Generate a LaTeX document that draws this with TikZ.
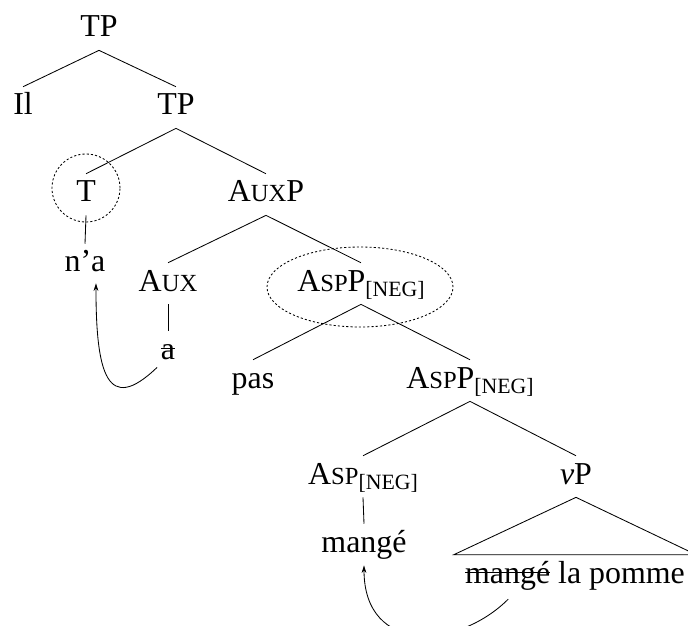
\documentclass[tikz,border=0pt]{standalone}
\usepackage{fontspec}
\setmainfont{Liberation Serif}
\usetikzlibrary{shapes.geometric,arrows.meta}

\newsavebox\gonebox
\newcommand{\gone}[1]{\sbox\gonebox{#1}\rlap{\rule[0.65ex]{\wd\gonebox}{0.7pt}}\usebox\gonebox}
\newcommand{\smc}[1]{{\fontsize{17.5}{18}\selectfont #1}}
\newcommand{\negf}{\raisebox{-4.2pt}{\fontsize{15.5}{16}\selectfont [NEG]}}

\tikzset{
  word/.style={anchor=base,inner xsep=7.8pt,inner ysep=2.8pt,text height=17pt,text depth=6.4pt},
  ring/.style={draw,dash pattern=on 1.5pt off 1.5pt,inner sep=0pt},
  move/.style={-{Stealth[length=5.5pt,width=3.4pt]}}
}

\begin{document}
\begin{tikzpicture}[line width=0.6pt,font=\fontsize{22.7}{27}\selectfont]
    \useasboundingbox (0,0) rectangle (17.2,-15.65);
    % tree nodes
    \node[word] at (2.475,-0.925) (tp) {TP};
    \node[word] at (0.575,-2.875) (il) {Il};
    \node[word] at (4.4,-2.875) (tpb) {TP};
    \node[word] at (2.15,-5.05) (t) {T};
    \node[word] at (6.65,-5.05) (auxp) {A\smc{UX}P};
    \node[word] at (2.125,-6.8) (na) {n’a};
    \node[word] at (4.2,-7.275) (aux) {A\smc{UX}};
    \node[word] at (9.025,-7.275) (aspp) {A\smc{SP}P\negf};
    \node[word] at (4.2,-8.975) (aa) {\gone{a}};
    \node[word] at (6.325,-9.7) (pas) {pas};
    \node[word] at (11.75,-9.7) (asppb) {A\smc{SP}P\negf};
    \node[word] at (9.075,-12.1) (asp) {A\smc{SP}\negf};
    \node[word] at (14.4,-12.1) (vp) {\textit{v}P};
    \node[word] at (9.1,-13.8) (mg) {mangé};
    \node[word] at (14.375,-14.575) (mlp) {\gone{mangé} la pomme};
    % dotted rings
    \node[ring,circle,minimum size=1.7cm] at (2.15,-4.7) (tring) {};
    \node[ring,ellipse,minimum width=4.65cm,minimum height=2cm] at (9.0,-7.175) (asring) {};
    % branches
    \draw (tp.south) -- (il.north);
    \draw (tp.south) -- (tpb.north);
    \draw (tpb.south) -- (t.north);
    \draw (tpb.south) -- (auxp.north);
    \draw (t.south) -- (na.north);
    \draw (auxp.south) -- (aux.north);
    \draw (auxp.south) -- (aspp.north);
    \draw (aux.south) -- (aa.north);
    \draw (aspp.south) -- (pas.north);
    \draw (aspp.south) -- (asppb.north);
    \draw (asppb.south) -- (asp.north);
    \draw (asppb.south) -- (vp.north);
    \draw (asp.south) -- (mg.north);
    \draw (vp.south) -- (mlp.north west) -- (mlp.north east) -- cycle;
    % head movement
    \draw[move] ([xshift=-7.8pt,yshift=3.5pt]aa.south) .. controls +(-1.25,-1.2) and +(0,-2.25) .. ([xshift=7.8pt,yshift=1.5pt]na.south);
    \draw[move] ([xshift=-47.5pt,yshift=-2pt]mlp.south) .. controls +(-1.25,-1.25) and +(0,-2.25) .. (mg.south);
\end{tikzpicture}
\end{document}
